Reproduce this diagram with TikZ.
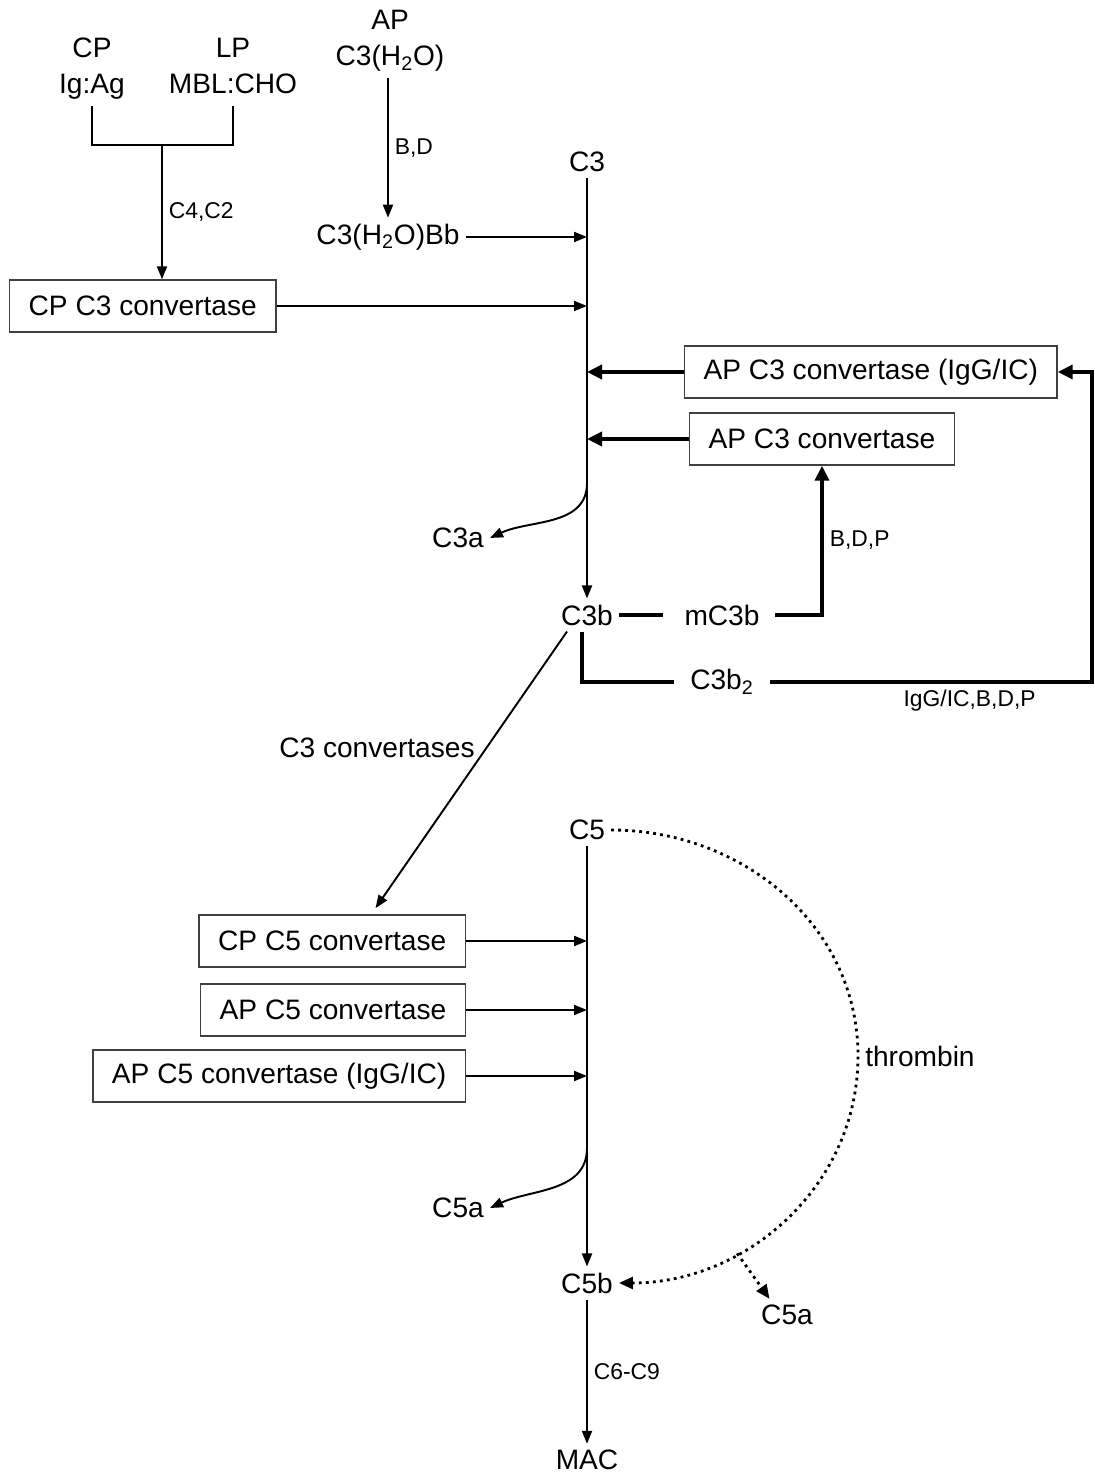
\documentclass[tikz,border=0pt]{standalone}
\usepackage{fontspec}
\setmainfont{Liberation Sans}
\usetikzlibrary{arrows.meta}

\begin{document}
\begin{tikzpicture}[x=0.02cm, y=0.02cm, >={Triangle[length=0.26cm,width=0.2cm]},
  every node/.style={font=\fontsize{16}{20.4}\selectfont},
  conv/.style={draw=black!75, line width=0.8pt, inner xsep=0.38cm, minimum height=1.04cm},
  small/.style={font=\fontsize{13}{15}\selectfont},
  fine/.style={line width=1.1pt},
  heavy/.style={line width=2.3pt, >={Triangle[length=0.3cm,width=0.28cm]}},
  dotline/.style={line width=1.6pt, dash pattern=on 1.6pt off 2.4pt,
    >={Triangle[length=0.28cm,width=0.24cm]}}]

\useasboundingbox (0,0) rectangle (1095,1474);

% entry pathways
\node [align=center, anchor=north] (cp) at (92,1442) {CP\\Ig:Ag};
\node [align=center, anchor=north] (lp) at (233,1442) {LP\\MBL:CHO};
\node [align=center] (ap) at (390,1433) {AP\\C3(H\textsubscript{2}O)};
\node (bb) at (388,1237) {C3(H\textsubscript{2}O)Bb};
\coordinate (join) at (162,1329);

% C3 stage
\node (cthree) at (587,1312) {C3};
\node (cthreeb) at (587,859) {C3b};
\node (mcthreeb) at (722,859) {mC3b};
\node (cthreebtwo) at (722,792) {C3b\textsubscript{2}};
\node (cthreea) at (458,936) {C3a};
\node [conv, anchor=west] (cpcthree) at (9,1168) {CP C3 convertase};
\node [conv, anchor=west] (apigg) at (684,1102) {AP C3 convertase (IgG/IC)};
\node [conv, anchor=west] (apcthree) at (689,1035) {AP C3 convertase};
\coordinate (cthreecut) at (587,991);
\coordinate (rim) at (1092,792);

% C5 stage
\node (cfive) at (587,644) {C5};
\node (cfiveb) at (587,191) {C5b};
\node (mac) at (587,14) {MAC};
\node (cfivea) at (458,266) {C5a};
\node (cfiveatwo) at (787,159) {C5a};
\node [conv, anchor=east] (cpcfive) at (466,533) {CP C5 convertase};
\node [conv, anchor=east] (apcfive) at (466,464) {AP C5 convertase};
\node [conv, anchor=east] (apcfiveigg) at (466,398) {AP C5 convertase (IgG/IC)};
\coordinate (cfivecut) at (587,326);
\coordinate (bend) at (858,418);

% pathways into C3 convertases
\draw [fine] (cp.south) |- (join) -| (cp.south -| lp);
\draw [fine,->] (join) -- node [small, right] (ctwo) {C4,C2} (join |- cpcthree.north);
\draw [fine,->] (ap.south -| bb) -- node [small, right] (bd) {B,D} (bb.north);
\draw [fine,->] (bb.east) -- (bb.east -| cthree);
\draw [fine,->] (cpcthree.east) -- (cpcthree.east -| cthree);

\draw [fine,->] (cthree) -- (cthreeb);
\draw [fine,->] (cthreecut) to [out=-90,in=25] (cthreea.east);

\foreach \n in {apigg,apcthree}
  \draw [heavy,->] (\n.west) -- (\n.west -| cthree);

\draw [heavy,shorten >=0.3cm] (cthreeb) -- (mcthreeb);
\draw [heavy,->,shorten <=0.19cm] (mcthreeb.east) -| node [small, pos=0.75, right] (bdp) {B,D,P} (apcthree.south);
\draw [heavy] ([xshift=-0.1cm]cthreeb.south) |- ([xshift=-0.2cm]cthreebtwo.west);
\draw [heavy,->] ([xshift=0.2cm]cthreebtwo.east) -- node [small, pos=0.62, below] (iggbdp) {IgG/IC,B,D,P} (rim) |- (apigg.east);

\draw [fine,->,shorten >=0.15cm] ([xshift=-0.4cm]cthreeb.south) -- node [pos=0.41, left=3pt] (cconv) {C3 convertases} ([xshift=0.78cm]cpcfive.north);

% C5 cleavage
\foreach \n in {cpcfive,apcfive,apcfiveigg}
  \draw [fine,->] (\n.east) -- (\n.east -| cfive);

\draw [fine,->] (cfive) -- (cfiveb);
\draw [fine,->] (cfivecut) to [out=-90,in=25] (cfivea.east);
\draw [fine,->] (cfiveb) -- node [small, right] (late) {C6-C9} (mac);

\draw [dotline,->] (cfive.east) to [out=0,in=90] (bend) node [right] (thrombin) {thrombin}
  to [out=-90,in=0] node [coordinate, pos=0.67] (split) {} (cfiveb.east);
\draw [dotline,->] (split) -- ([xshift=-0.35cm]cfiveatwo.north);

\end{tikzpicture}
\end{document}
